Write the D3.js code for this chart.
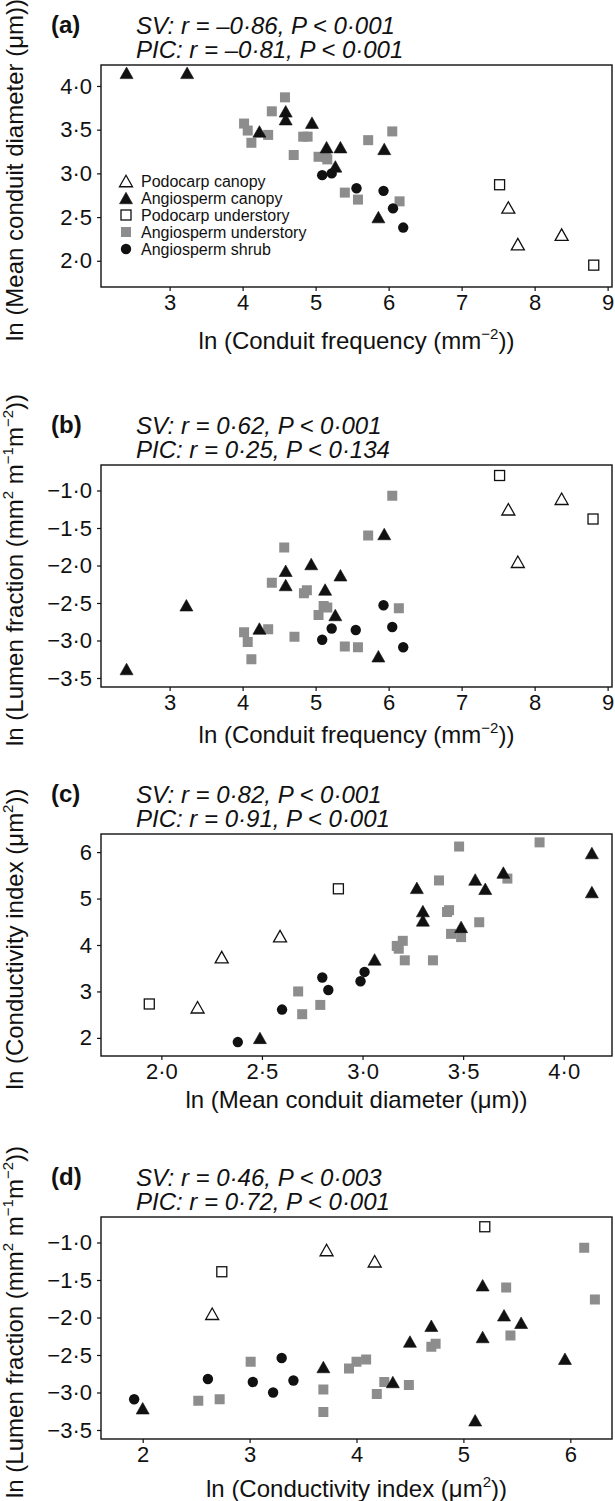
<!DOCTYPE html>
<html><head><meta charset="utf-8">
<script src="https://cdn.jsdelivr.net/npm/d3@7"></script>
<style>
body{margin:0;background:#fff}
svg{display:block}
text{font-family:"Liberation Sans",Arial,Helvetica,sans-serif;fill:#111}
</style>
</head><body>
<svg id="chart" width="615" height="1501"></svg>
<script>
// ---------- data ----------
const groupNames = ["Podocarp canopy","Angiosperm canopy","Podocarp understory","Angiosperm understory","Angiosperm shrub"];

// Panel (a): ln conduit frequency vs ln mean conduit diameter
const aPodCanopy = [[7.64,2.61],[7.77,2.19],[8.37,2.30]];
const aAngCanopy = [[2.41,4.15],[3.24,4.15],[4.23,3.48],[4.59,3.71],[4.59,3.62],[4.95,3.58],[5.15,3.30],[5.34,3.30],[5.27,3.08],[5.94,3.28],[5.86,2.50]];
const aPodUnder  = [[7.52,2.87],[8.81,1.95]];
const aAngUnder  = [[4.02,3.57],[4.07,3.49],[4.12,3.35],[4.40,3.71],[4.35,3.44],[4.58,3.87],[4.70,3.21],[4.83,3.42],[4.89,3.42],[5.04,3.19],[5.14,3.19],[5.16,3.16],[5.40,2.78],[5.58,2.70],[5.72,3.38],[6.05,3.48],[6.15,2.68]];
const aShrub     = [[5.09,2.98],[5.22,3.00],[5.56,2.83],[5.93,2.80],[6.06,2.60],[6.20,2.38]];

// Panel (b): ln conduit frequency vs ln lumen fraction
const bPodCanopy = [[7.64,-1.25],[8.37,-1.11],[7.77,-1.95]];
const bAngCanopy = [[2.41,-3.38],[3.23,-2.53],[4.23,-2.84],[4.59,-2.07],[4.59,-2.26],[4.94,-1.98],[5.13,-2.32],[5.34,-2.13],[5.27,-2.66],[5.94,-1.58],[5.86,-3.21]];
const bPodUnder  = [[7.52,-0.80],[8.80,-1.38]];
const bAngUnder  = [[6.05,-1.07],[5.72,-1.60],[4.57,-1.76],[4.40,-2.23],[4.84,-2.37],[4.88,-2.33],[5.11,-2.54],[5.16,-2.56],[5.04,-2.66],[6.14,-2.57],[4.02,-2.89],[4.07,-3.02],[4.12,-3.25],[4.35,-2.85],[4.71,-2.95],[5.40,-3.08],[5.58,-3.09]];
const bShrub     = [[5.93,-2.53],[5.22,-2.84],[5.55,-2.86],[6.05,-2.82],[5.09,-2.99],[6.20,-3.09]];

// Panel (c): ln mean conduit diameter vs ln conductivity index
const cPodCanopy = [[2.18,2.66],[2.30,3.74],[2.59,4.19]];
const cAngCanopy = [[2.49,2.00],[3.06,3.69],[3.27,5.23],[3.30,4.73],[3.30,4.53],[3.49,4.39],[3.56,5.41],[3.61,5.21],[3.70,5.56],[4.14,5.98],[4.14,5.14]];
const cPodUnder  = [[1.94,2.73],[2.88,5.21]];
const cAngUnder  = [[2.68,3.00],[2.70,2.51],[2.79,2.71],[3.17,3.98],[3.18,3.92],[3.20,4.09],[3.21,3.67],[3.35,3.67],[3.38,5.39],[3.42,4.71],[3.43,4.75],[3.44,4.24],[3.48,6.12],[3.49,4.17],[3.58,4.49],[3.72,5.43],[3.88,6.21]];
const cShrub     = [[2.38,1.91],[2.60,2.61],[2.80,3.30],[2.83,3.03],[2.99,3.22],[3.01,3.42]];

// Panel (d): ln conductivity index vs ln lumen fraction
const dPodCanopy = [[2.65,-1.95],[3.72,-1.10],[4.17,-1.25]];
const dAngCanopy = [[2.00,-3.21],[3.69,-2.66],[4.34,-2.86],[4.50,-2.32],[4.70,-2.11],[5.11,-3.37],[5.18,-1.57],[5.18,-2.26],[5.38,-1.97],[5.54,-2.07],[5.95,-2.55]];
const dPodUnder  = [[2.74,-1.39],[5.20,-0.79]];
const dAngUnder  = [[2.52,-3.11],[2.72,-3.09],[3.01,-2.59],[3.69,-2.96],[3.69,-3.26],[3.93,-2.68],[4.00,-2.59],[4.09,-2.56],[4.19,-3.02],[4.26,-2.86],[4.49,-2.90],[4.70,-2.39],[4.74,-2.35],[5.40,-1.60],[5.44,-2.24],[6.13,-1.07],[6.23,-1.76]];
const dShrub     = [[1.92,-3.09],[2.61,-2.82],[3.03,-2.86],[3.22,-3.00],[3.30,-2.54],[3.41,-2.84]];

// tick values
const freqTicks  = [3,4,5,6,7,8,9];
const diamTicks  = [2.0,2.5,3.0,3.5,4.0];
const lumenTicks = [-3.5,-3.0,-2.5,-2.0,-1.5,-1.0];
const condTicks  = [2,3,4,5,6];

// domains
const freqDomain  = [2.06,9.06];
const diamDomain  = [1.70,4.24];
const lumenDomain = [-3.62,-0.66];
const condDomain  = [1.61,6.39];

// texts
const panelLabels = ["(a)","(b)","(c)","(d)"];
const svLines  = ["SV: r = \u20130\u00b786, P < 0\u00b7001","SV: r = 0\u00b762, P < 0\u00b7001","SV: r = 0\u00b782, P < 0\u00b7001","SV: r = 0\u00b746, P < 0\u00b7003"];
const picLines = ["PIC: r = \u20130\u00b781, P < 0\u00b7001","PIC: r = 0\u00b725, P < 0\u00b7134","PIC: r = 0\u00b791, P < 0\u00b7001","PIC: r = 0\u00b772, P < 0\u00b7001"];
const titleFreq  = [["ln (Conduit frequency (mm",0],["\u22122",1],["))",0]];
const titleDiam  = [["ln (Mean conduit diameter (\u03bcm))",0]];
const titleLumen = [["ln (Lumen fraction (mm",0],["2",1],[" m",0],["\u22121",1],["m",0],["\u22122",1],["))",0]];
const titleCond  = [["ln (Conductivity index (\u03bcm",0],["2",1],["))",0]];

// ---------- layout ----------
const W = 615, H = 1501;
const boxLeft = 101, boxRight = 612, boxH = 222;
const boxTops = [65, 465, 834, 1217];
const xTitleOffsets = [62, 56, 52, 58];

const fmt1 = v => d3.format(".1f")(v).replace("-", "\u2212").replace(".", "\u00b7");
const fmt0 = v => d3.format("d")(v);

const panels = [
  {xd:freqDomain, yd:diamDomain,  xt:freqTicks, yt:diamTicks,  xf:fmt0, yf:fmt1, xTitle:titleFreq, yTitle:titleDiam,
   sets:[aAngUnder,aPodCanopy,aPodUnder,aShrub,aAngCanopy], legend:true},
  {xd:freqDomain, yd:lumenDomain, xt:freqTicks, yt:lumenTicks, xf:fmt0, yf:fmt1, xTitle:titleFreq, yTitle:titleLumen,
   sets:[bAngUnder,bPodCanopy,bPodUnder,bShrub,bAngCanopy]},
  {xd:diamDomain, yd:condDomain,  xt:diamTicks, yt:condTicks,  xf:fmt1, yf:fmt0, xTitle:titleDiam, yTitle:titleCond,
   sets:[cAngUnder,cPodCanopy,cPodUnder,cShrub,cAngCanopy]},
  {xd:condDomain, yd:lumenDomain, xt:condTicks, yt:lumenTicks, xf:fmt0, yf:fmt1, xTitle:titleCond, yTitle:titleLumen,
   sets:[dAngUnder,dPodCanopy,dPodUnder,dShrub,dAngCanopy]}
];
// draw order of sets: understory squares, podocarp canopy, podocarp understory, shrub, angiosperm canopy
const setKinds = ["sqGray","triOpen","sqOpen","circle","triFill"];

const svg = d3.select("#chart");
svg.append("rect").attr("width",W).attr("height",H).attr("fill","#fff");

function marker(g, kind, x, y){
  const ink = "#111";
  if (kind === "triOpen" || kind === "triFill"){
    const w = 13, h = 11.5;
    g.append("path")
      .attr("d", `M${x},${y-h/2}L${x+w/2},${y+h/2}L${x-w/2},${y+h/2}Z`)
      .attr("fill", kind === "triFill" ? ink : "#fff")
      .attr("stroke", ink).attr("stroke-width", kind === "triFill" ? 0.6 : 1.3)
      .attr("stroke-linejoin","miter");
  } else if (kind === "sqOpen"){
    const s = 10;
    g.append("rect").attr("x",x-s/2).attr("y",y-s/2).attr("width",s).attr("height",s)
      .attr("fill","#fff").attr("stroke",ink).attr("stroke-width",1.3);
  } else if (kind === "sqGray"){
    const s = 10;
    g.append("rect").attr("x",x-s/2).attr("y",y-s/2).attr("width",s).attr("height",s)
      .attr("fill","#8d8d8d");
  } else {
    g.append("circle").attr("cx",x).attr("cy",y).attr("r",5.2).attr("fill",ink);
  }
}

function richText(sel, segs, size){
  const supSize = Math.round(size*0.62);
  const shift = size*0.42;
  let raised = false;
  segs.forEach(([t,sup]) => {
    const ts = sel.append("tspan").text(t);
    if (sup){
      ts.attr("font-size", supSize).attr("dy", raised ? 0 : -shift);
      raised = true;
    } else {
      ts.attr("dy", raised ? shift : 0);
      raised = false;
    }
  });
}

panels.forEach((p, i) => {
  const top = boxTops[i], bottom = top + boxH;
  const x = d3.scaleLinear().domain(p.xd).range([boxLeft, boxRight]);
  const y = d3.scaleLinear().domain(p.yd).range([bottom, top]);
  const g = svg.append("g");

  // axes
  const xa = g.append("g").attr("transform",`translate(0,${bottom})`)
    .call(d3.axisBottom(x).tickValues(p.xt).tickFormat(p.xf).tickSize(4).tickPadding(3));
  const ya = g.append("g").attr("transform",`translate(${boxLeft},0)`)
    .call(d3.axisLeft(y).tickValues(p.yt).tickFormat(p.yf).tickSize(4).tickPadding(5));
  [xa, ya].forEach(a => {
    a.select(".domain").remove();
    a.selectAll("line").attr("stroke","#111").attr("stroke-width",1.2);
    a.selectAll("text").attr("font-size",22).attr("fill","#111")
      .attr("font-family","'Liberation Sans',Arial,Helvetica,sans-serif");
  });

  // frame
  g.append("rect").attr("x",boxLeft).attr("y",top).attr("width",boxRight-boxLeft).attr("height",boxH)
    .attr("fill","none").attr("stroke","#111").attr("stroke-width",1.4);

  // points
  const pg = g.append("g");
  p.sets.forEach((set, k) => {
    set.forEach(d => marker(pg, setKinds[k], x(d[0]), y(d[1])));
  });

  // header
  g.append("text").attr("x",51).attr("y",top-32).attr("font-size",24).attr("font-weight","bold").text(panelLabels[i]);
  g.append("text").attr("x",136).attr("y",top-31).attr("font-size",24).attr("font-style","italic").text(svLines[i]);
  g.append("text").attr("x",136).attr("y",top-7).attr("font-size",24).attr("font-style","italic").text(picLines[i]);

  // axis titles
  const xt = g.append("text").attr("x",(boxLeft+boxRight)/2).attr("y",bottom+xTitleOffsets[i])
    .attr("text-anchor","middle").attr("font-size",24);
  richText(xt, p.xTitle, 24);
  const yt = g.append("text").attr("transform",`translate(23,${(top+bottom)/2 - 6}) rotate(-90)`)
    .attr("text-anchor","middle").attr("dy","0.35em").attr("font-size",24);
  richText(yt, p.yTitle, 24);

  // legend
  if (p.legend){
    const legendKinds = ["triOpen","triFill","sqOpen","sqGray","circle"];
    const lg = g.append("g");
    groupNames.forEach((name, k) => {
      const ly = 181 + k*17;
      marker(lg, legendKinds[k], 126, ly);
      lg.append("text").attr("x",141).attr("y",ly).attr("dy","0.35em").attr("font-size",16).text(name);
    });
  }
});
</script>
</body></html>
